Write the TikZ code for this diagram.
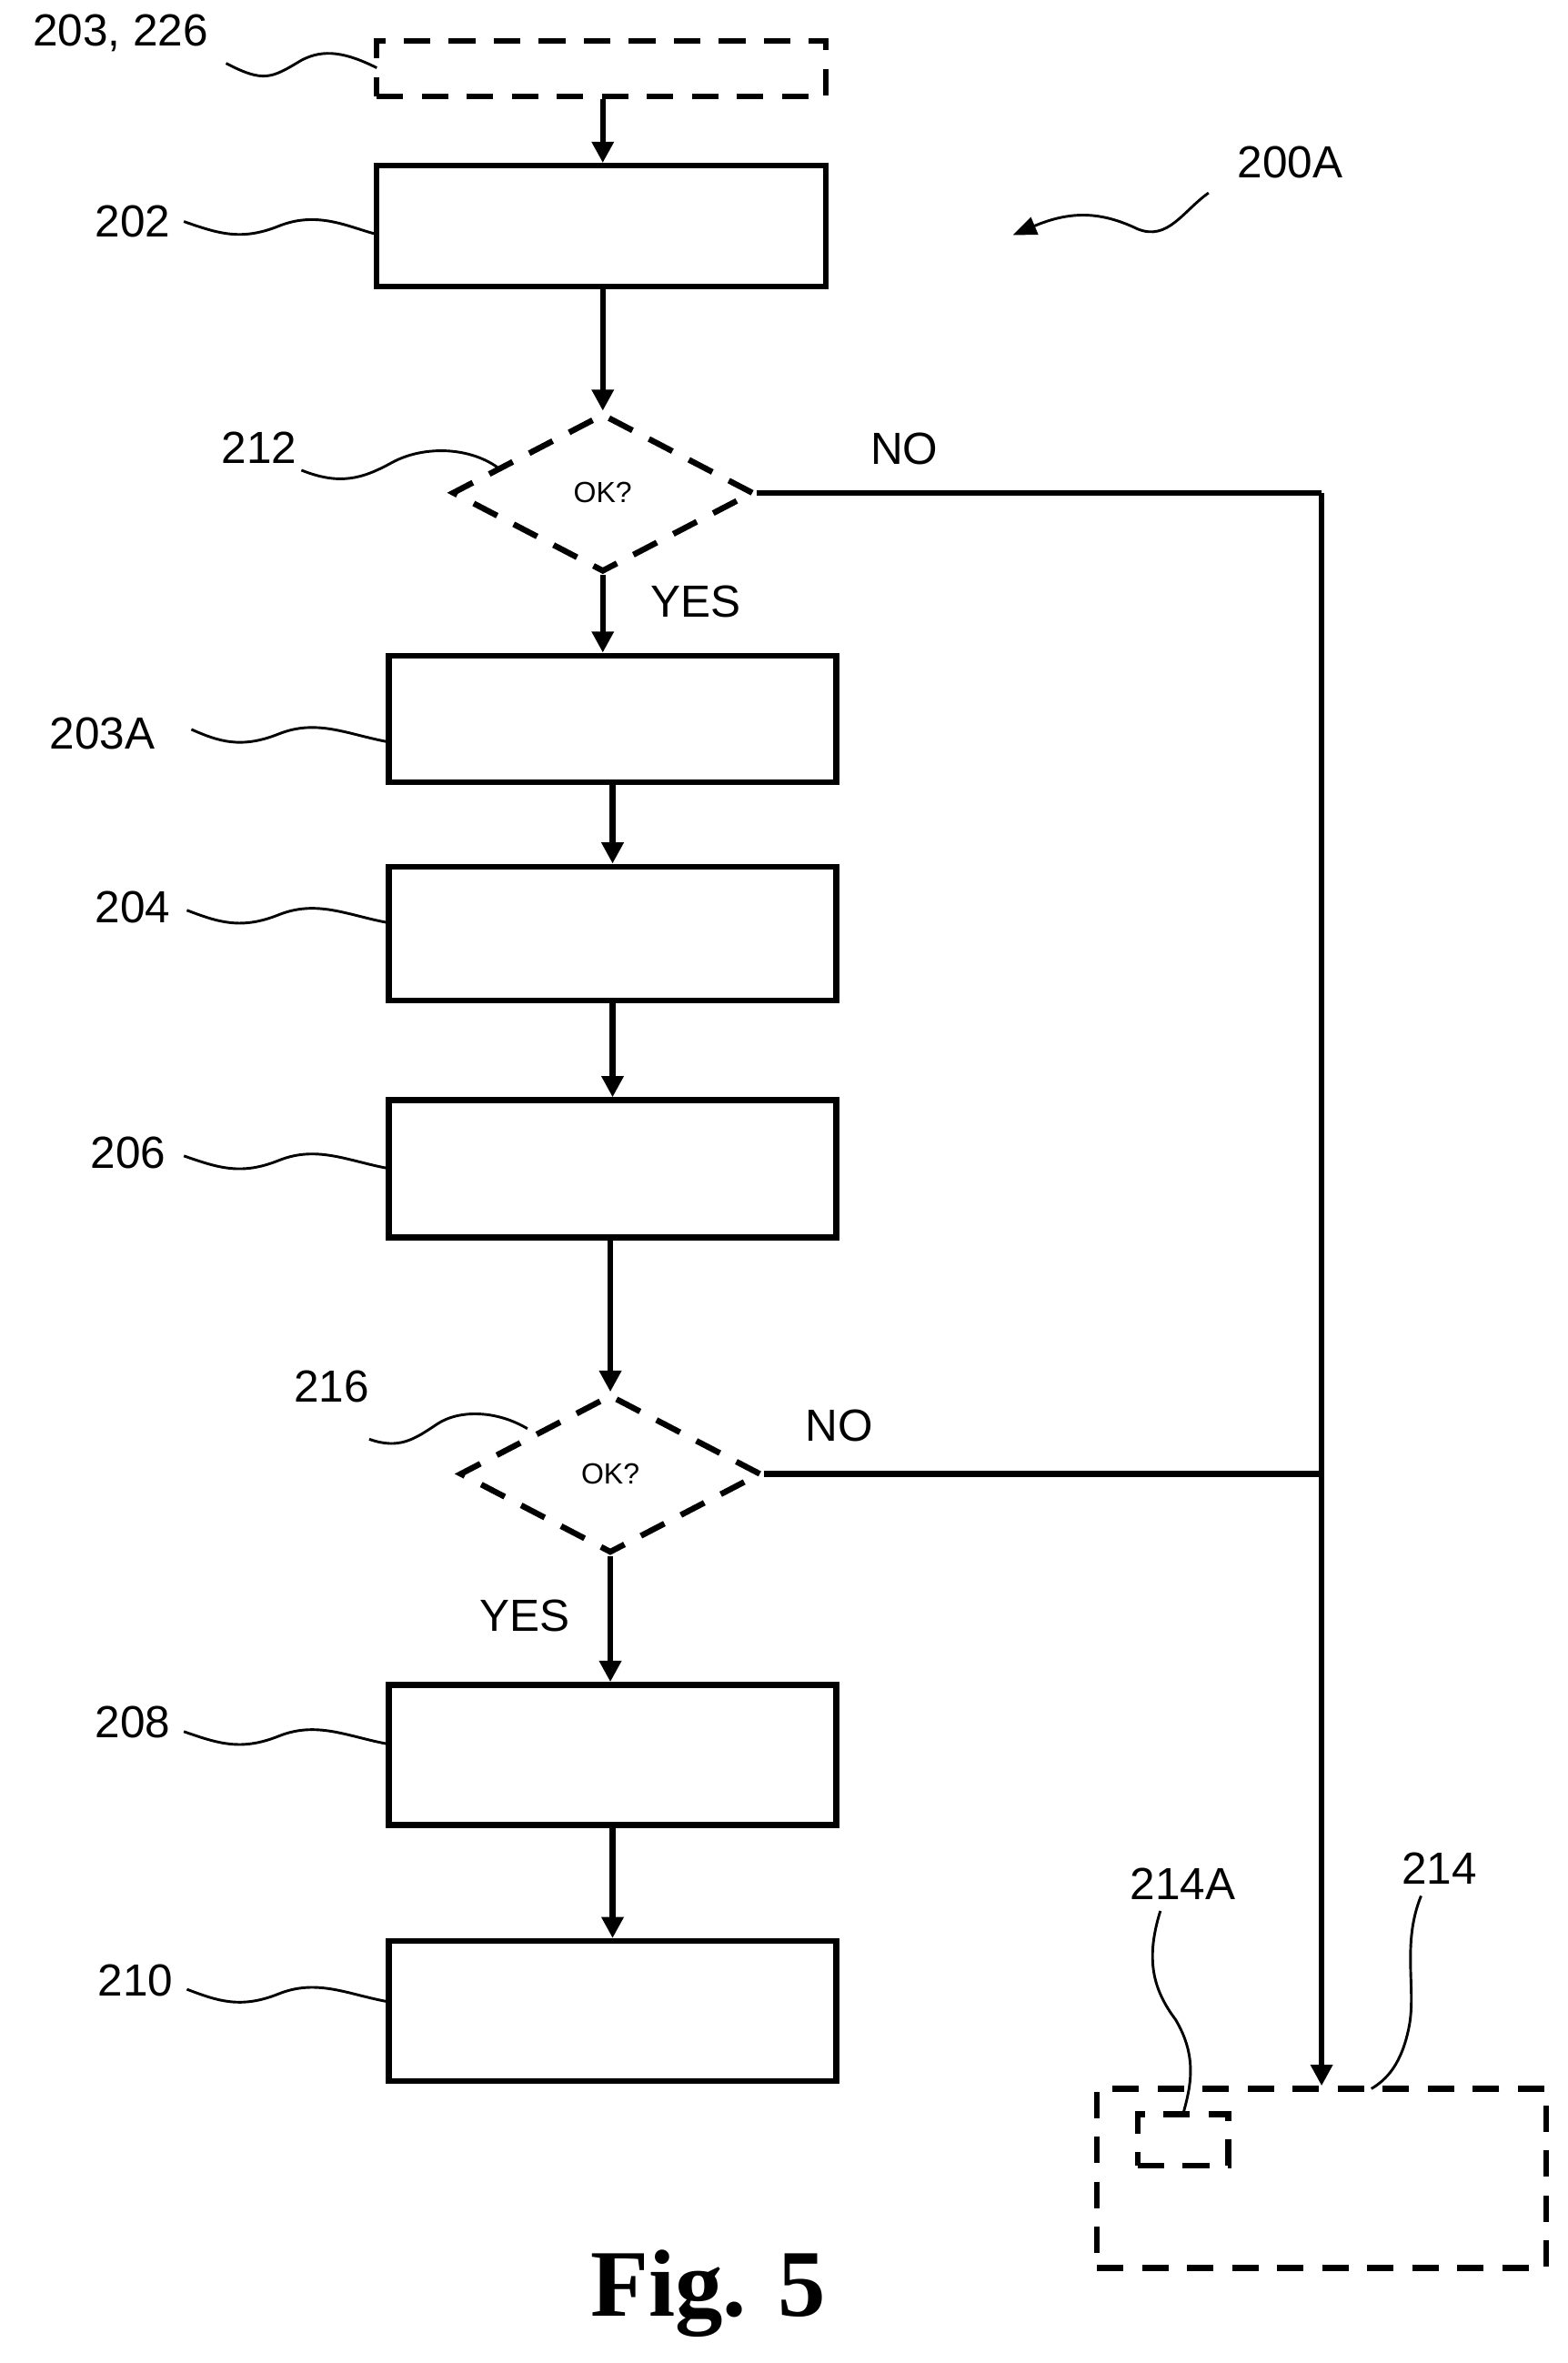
\documentclass[tikz,border=0pt]{standalone}
\usepackage{fontspec}
\setmainfont{Liberation Sans}
\newfontfamily\figfont{Liberation Serif}
\usetikzlibrary{shapes.geometric,arrows.meta}
\begin{document}
\begin{tikzpicture}[x=0.02cm,y=-0.02cm,
  lw/.style={line width=2.2pt},
  box/.style={lw,draw,rectangle,inner sep=0},
  dbox/.style={box,dash pattern=on 10pt off 7pt},
  dia/.style={lw,draw,diamond,aspect=1.9,minimum width=4cm,minimum height=2.1cm,inner sep=0,dash pattern=on 10pt off 7pt,font=\fontsize{11}{13}\selectfont},
  arr/.style={lw,-{Triangle[length=8pt,width=8pt]}},
  lead/.style={line width=1pt},
  lab/.style={font=\fontsize{17}{20}\selectfont,inner sep=1pt}]
\useasboundingbox (0,0) rectangle (1040,1568);
\node[dbox,minimum width=5.96cm,minimum height=0.74cm] (top) at (399,45.5) {};
\node[box,minimum width=5.96cm,minimum height=1.6cm] (b202) at (399,150) {};
\node[dia] (d212) at (400,327) {OK?};
\node[box,minimum width=5.94cm,minimum height=1.68cm] (b203A) at (406.5,477) {};
\node[box,minimum width=5.94cm,minimum height=1.78cm] (b204) at (406.5,619.5) {};
\node[box,minimum width=5.94cm,minimum height=1.82cm] (b206) at (406.5,775.5) {};
\node[dia] (d216) at (405,978) {OK?};
\node[box,minimum width=5.94cm,minimum height=1.86cm] (b208) at (406.5,1164.5) {};
\node[box,minimum width=5.94cm,minimum height=1.86cm] (b210) at (406.5,1334.5) {};
\node[dbox,minimum width=5.96cm,minimum height=2.38cm] (b214) at (877,1445.5) {};
\node[dbox,minimum width=1.2cm,minimum height=0.68cm] (b214A) at (785,1420) {};
% arrows
\draw[arr] (top.south -| 400,0) -- (b202.north -| 400,0);
\draw[arr] (b202.south -| 400,0) -- (d212.north);
\draw[arr] (d212.south) -- (b203A.north -| 400,0);
\draw[arr] (b203A) -- (b204);
\draw[arr] (b204) -- (b206);
\draw[arr] (b206.south -| 405,0) -- (d216.north);
\draw[arr] (d216.south) -- (b208.north -| 405,0);
\draw[arr] (b208) -- (b210);
\coordinate (c1) at (877,327);
\coordinate (c2) at (877,978);
\draw[lw] (d212.east) -- (c1);
\draw[lw] (d216.east) -- (c2);
\draw[arr] (c1) -- (b214.north);
% labels
\node[lab] (l203) at (80,22) {203, 226};
\node[lab] (l202) at (88,147) {202};
\node[lab] (l200) at (856,108) {200A};
\node[lab] (l212) at (172,297) {212};
\node[lab] at (600,298) {NO};
\node[lab] at (462,399) {YES};
\node[lab] (l203A) at (68,487) {203A};
\node[lab] (l204) at (88,602) {204};
\node[lab] (l206) at (85,765) {206};
\node[lab] (l216) at (220,920) {216};
\node[lab] at (557,946) {NO};
\node[lab] at (348,1072) {YES};
\node[lab] (l208) at (88,1143) {208};
\node[lab] (l210) at (90,1314) {210};
\node[lab] (l214A) at (785,1250) {214A};
\node[lab] (l214) at (955,1240) {214};
\node[font=\figfont\bfseries\fontsize{36}{40}\selectfont] (fig) at (470,1522) {Fig. 5};
% leaders
\coordinate (t1) at (250,45);
\draw[lead] (150,42) .. controls (175,55) and (180,52) .. (200,40) .. controls (215,32) and (230,35) .. (t1);
\foreach \s/\y/\e in {122/155/b202, 127/492/b203A, 124/612/b204, 122/775/b206, 122/1157/b208, 124/1328/b210}{
  \coordinate (e) at (\e.west |- 0,\y);
  \draw[lead] (\s,\y-8) .. controls (145,\y) and (160,\y+5) .. (185,\y-5) .. controls (210,\y-15) and (230,\y-5) .. (e);
}
\coordinate (t212) at (330,310);
\draw[lead] (200,312) .. controls (225,322) and (240,318) .. (260,307) .. controls (280,296) and (310,296) .. (t212);
\coordinate (t216) at (350,948);
\draw[lead] (245,955) .. controls (265,962) and (275,955) .. (290,945) .. controls (305,935) and (330,936) .. (t216);
\coordinate (t200) at (672,156);
\draw[lead,-{Triangle[length=9pt,width=7pt]}] (802,128) .. controls (785,140) and (775,160) .. (755,152) .. controls (730,140) and (710,140) .. (t200);
\coordinate (t214A) at (785,1403);
\draw[lead] (770,1268) .. controls (760,1300) and (765,1320) .. (780,1340) .. controls (795,1365) and (790,1385) .. (t214A);
\coordinate (t214) at (910,1386);
\draw[lead] (943,1258) .. controls (930,1290) and (940,1320) .. (935,1345) .. controls (930,1370) and (920,1380) .. (t214);
\end{tikzpicture}
\end{document}
